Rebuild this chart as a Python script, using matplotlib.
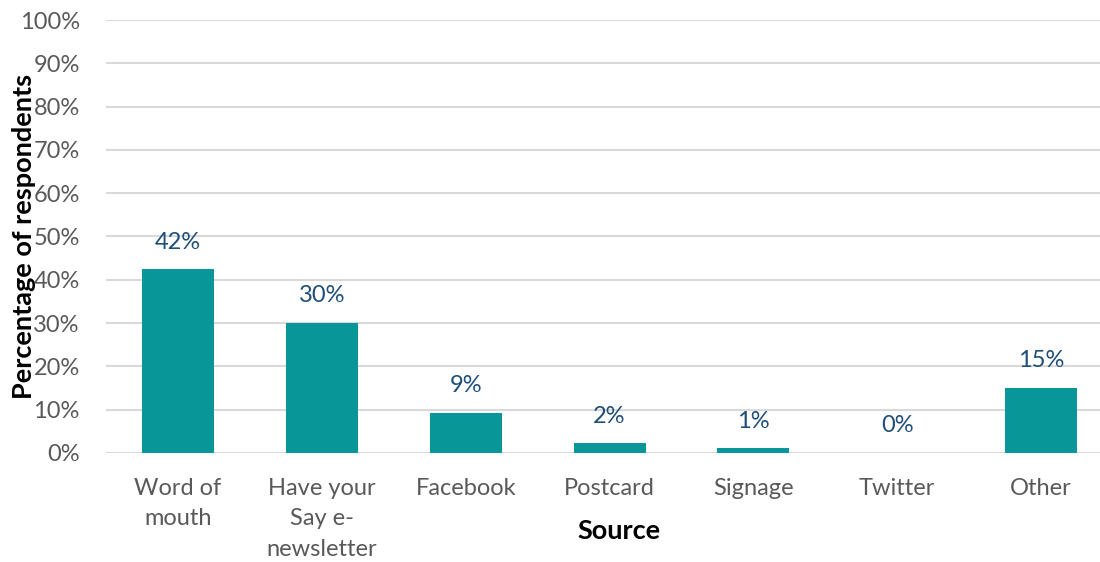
import matplotlib.pyplot as plt
from matplotlib.ticker import PercentFormatter

plt.rcParams['font.family'] = ['Lato', 'DejaVu Sans']

sources = ['Word of\nmouth', 'Have your\nSay e-\nnewsletter', 'Facebook', 'Postcard',
           'Signage', 'Twitter', 'Other']
values = [42.4, 30.0, 9.3, 2.2, 1.1, 0.0, 15.1]
labels = ['42%', '30%', '9%', '2%', '1%', '0%', '15%']

bar_color = '#089699'
label_color = '#1f4e79'
tick_color = '#595959'

fig = plt.figure(figsize=(11, 5.62), dpi=100)
ax = fig.add_axes([0.0964, 0.194, 0.9155, 0.7704])

x = range(len(sources))
ax.bar(x, values, width=0.5, color=bar_color, zorder=3)
for xi, v, lab in zip(x, values, labels):
    ax.annotate(lab, (xi, v), xytext=(0, 19.5), textcoords='offset points',
                ha='center', va='center', fontsize=17, color=label_color)

ax.set_xlim(-0.5, len(sources) - 0.5)
ax.set_ylim(0, 100)
ax.set_yticks(range(0, 101, 10))
ax.yaxis.set_major_formatter(PercentFormatter(decimals=0))
ax.set_xticks(list(x))
ax.set_xticklabels(sources, linespacing=1.55)
ax.tick_params(axis='both', length=0, labelsize=17, colors=tick_color)
ax.tick_params(axis='x', pad=18)
ax.tick_params(axis='y', pad=19)
ax.grid(axis='y', color='#d9d9d9', linewidth=1.5, zorder=0)
for s in ax.spines.values():
    s.set_visible(False)

fig.text(0.022, 0.5796, 'Percentage of respondents', rotation=90, ha='center', va='center',
         fontsize=19.5, fontweight='bold', color='black')
fig.text(0.5627, 0.055, 'Source', ha='center', va='center',
         fontsize=19.5, fontweight='bold', color='black')

fig.savefig('out.png', dpi=100)
